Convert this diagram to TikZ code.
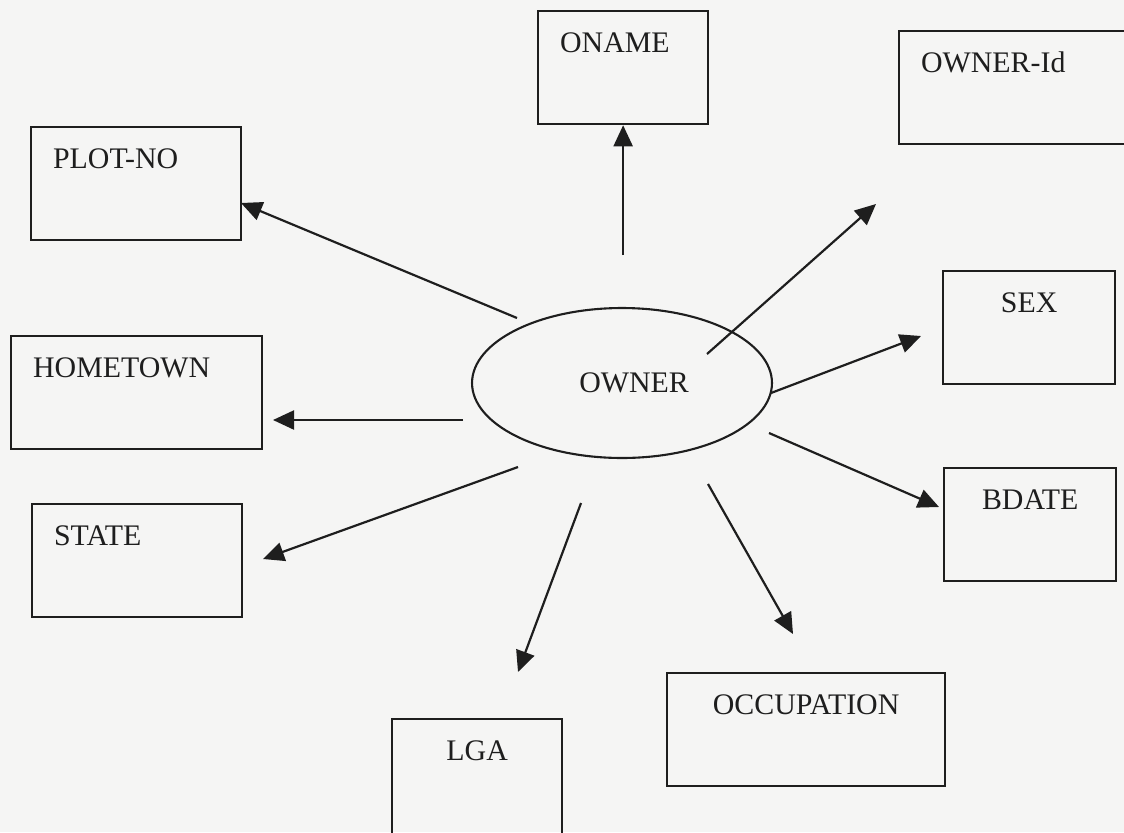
\documentclass[tikz,border=0pt]{standalone}
\usepackage{fontspec}
\setmainfont{Liberation Serif}
\usetikzlibrary{arrows.meta,shapes.geometric}
\definecolor{ink}{HTML}{1E1E1E}
\definecolor{paper}{HTML}{F5F5F4}

\begin{document}
\begin{tikzpicture}[x=.02cm,y=-.02cm,
          every node/.style={font=\fontsize{17}{20}\selectfont,text=ink},
          attrbox/.style={draw=ink,line width=1.3pt,anchor=north west,
              inner ysep=0pt,text height=.82cm,text depth=1.44cm},
          leftbox/.style={attrbox,inner xsep=.44cm,align=left},
          midbox/.style={attrbox,inner xsep=0pt,align=center},
          entity/.style={ellipse,draw=ink,line width=1.2pt,
              minimum width=6cm,minimum height=3cm,inner sep=0pt},
          link/.style={-{Triangle[length=.42cm,width=.38cm]},line width=1.25pt,draw=ink}]
        \clip (0,0) rectangle (1124,832);
        \fill[paper] (0,0) rectangle (1124,832);
        \node[leftbox,text width=2.52cm] (oname) at (537,10) {ONAME};
        \node[leftbox,text width=4.12cm] (id) at (898,30) {OWNER-Id};
        \node[leftbox,text width=3.32cm] (plot) at (30,126) {PLOT-NO};
        \node[leftbox,text width=4.14cm] (home) at (10,335) {HOMETOWN};
        \node[leftbox,text width=3.32cm] (state) at (31,503) {STATE};
        \node[midbox,minimum width=3.44cm] (sex) at (942,270) {SEX};
        \node[midbox,minimum width=3.44cm] (bdate) at (943,467) {BDATE};
        \node[midbox,minimum width=5.56cm] (occ) at (666,672) {OCCUPATION};
        \node[midbox,minimum width=3.4cm,text depth=2cm] (lga) at (391,718) {LGA};
        \node[entity] (owner) at (622,383) {\hspace*{.48cm}OWNER};
        \coordinate (oname-from) at (oname.south |- 0,255);
        \coordinate (id-from) at (707,354);    \coordinate (id-to) at (876,204);
        \coordinate (plot-from) at (517,318);  \coordinate (plot-to) at (241,203);
        \coordinate (sex-from) at (771,393);   \coordinate (sex-to) at (921,336);
        \coordinate (home-from) at (463,420);  \coordinate (home-to) at (273,420);
        \coordinate (bdate-from) at (769,433); \coordinate (bdate-to) at (939,507);
        \coordinate (state-from) at (518,467); \coordinate (state-to) at (263,559);
        \coordinate (lga-from) at (581,503);   \coordinate (lga-to) at (518,672);
        \coordinate (occ-from) at (708,484);   \coordinate (occ-to) at (793,634);
        \draw[link] (oname-from)--(oname.south);
        \foreach \x in {id,plot,sex,home,bdate,state,lga,occ}
        \draw[link] (\x-from)--(\x-to);
      \end{tikzpicture}
\end{document}
